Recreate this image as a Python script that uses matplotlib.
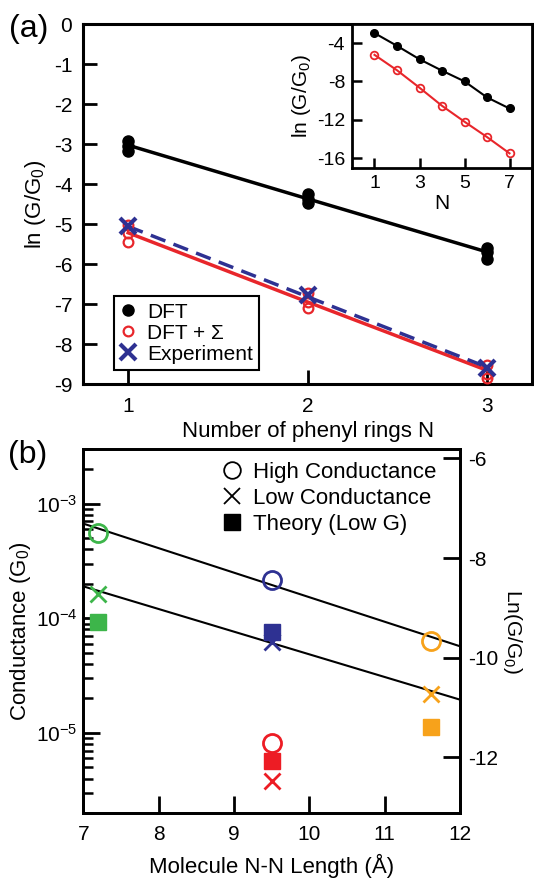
import numpy as np
import matplotlib
matplotlib.use('Agg')
import matplotlib.pyplot as plt
from matplotlib.lines import Line2D

plt.rcParams['font.family'] = ['Liberation Sans', 'DejaVu Sans']
plt.rcParams['mathtext.fontset'] = 'custom'
plt.rcParams['mathtext.rm'] = 'Liberation Sans'
plt.rcParams['mathtext.it'] = 'Liberation Sans:italic'
plt.rcParams['mathtext.default'] = 'regular'
plt.rcParams['axes.unicode_minus'] = False

# ---- panel (a): ln(G/G0) vs number of phenyl rings
rings = [1, 2, 3]
dft_n = [1, 1, 1, 2, 2, 2, 3, 3, 3]
dft_vals = [-2.93, -3.06, -3.18, -4.24, -4.37, -4.48, -5.60, -5.70, -5.87]
dft_fit = [-3.03, -4.37, -5.70]
sig_vals = [-5.02, -5.23, -5.46, -6.73, -6.94, -7.11, -8.52, -8.75, -8.85]
sig_fit = [-5.22, -6.95, -8.66]
exp_vals = [-5.06, -6.78, -8.60]
exp_fit = [-5.06, -6.82, -8.58]

# inset
n_inset = [1, 2, 3, 4, 5, 6, 7]
inset_dft = [-2.95, -4.28, -5.68, -6.87, -7.99, -9.66, -10.82]
inset_sig = [-5.22, -6.83, -8.65, -10.54, -12.2, -13.8, -15.5]

# ---- panel (b): conductance vs N-N length
lengths = [7.2, 9.5, 9.5, 11.62]
colors_b = ['#3db54a', '#2e3192', '#ed1c24', '#f7a21b']
high_g = [5.6e-4, 2.16e-4, 8.2e-6, 6.35e-5]
low_g = [1.64e-4, 6.2e-5, 3.8e-6, 2.18e-5]
theory_g = [9.3e-5, 7.6e-5, 5.7e-6, 1.12e-5]
fit_x = [7, 12]
high_fit = [6.7e-4, 5.7e-5]
low_fit = [1.9e-4, 1.95e-5]

red = '#e8262b'
blue = '#2e3192'

W, H = 534, 882
fig = plt.figure(figsize=(W / 100, H / 100), dpi=100)

def box(l, t, r, b):
    return [l / W, 1 - b / H, (r - l) / W, (b - t) / H]

# main (a)
ax = fig.add_axes(box(83.3, 24, 532, 384))
ax.plot(rings, dft_fit, color='black', lw=2.5, zorder=2)
ax.plot(rings, sig_fit, color=red, lw=2.5, zorder=2)
ax.plot(rings, exp_fit, color=blue, lw=2.5, ls=(0, (4.5, 2.5)), zorder=2)
ax.plot(dft_n, dft_vals, 'o', color='black', ms=8, zorder=3, label='DFT')
ax.plot(dft_n, sig_vals, 'o', mfc='none', mec=red, mew=1.6, ms=7, zorder=3,
        label='DFT + \u03a3')
ax.plot(rings, exp_vals, 'x', color=blue, ms=11, mew=3, zorder=4, label='Experiment')
ax.set_xlim(0.75, 3.25)
ax.set_ylim(-9, 0)
ax.set_xticks(rings)
ax.set_yticks(range(-9, 1))
ax.tick_params(direction='in', length=10, width=2, labelsize=15)
ax.tick_params(axis='y', pad=8)
ax.tick_params(axis='x', pad=9)
for s in ax.spines.values():
    s.set_linewidth(2.2)
ax.set_xlabel('Number of phenyl rings N', fontsize=16, labelpad=4)
ax.set_ylabel('ln (G/G$_0$)', fontsize=16, labelpad=4)
leg = ax.legend(loc='lower left', bbox_to_anchor=(0.068, 0.039), borderaxespad=0,
                fontsize=15, fancybox=False, edgecolor='black', framealpha=1,
                handlelength=0.8, handletextpad=0.5, labelspacing=0.1, borderpad=0.3)
leg.get_frame().set_linewidth(1.5)
fig.text(9 / W, 1 - 29 / H, '(a)', fontsize=23, va='center', ha='left')

# inset
ins = fig.add_axes(box(352, 24, 532, 167.7))
ins.plot(n_inset, inset_dft, '-o', color='black', lw=1.5, ms=5.5)
ins.plot(n_inset, inset_sig, '-o', color=red, lw=1.5, ms=5.5, mfc='none', mew=1.3)
ins.set_xlim(0, 8)
ins.set_ylim(-17, -2)
ins.set_xticks([1, 3, 5, 7])
ins.set_yticks([-4, -8, -12, -16])
ins.tick_params(direction='in', length=7, width=1.8, labelsize=14, pad=5)
for s in ins.spines.values():
    s.set_linewidth(2)
ins.set_xlabel('N', fontsize=15, labelpad=2)
ins.set_ylabel('ln (G/G$_0$)', fontsize=15, labelpad=3)

# panel (b)
axb = fig.add_axes(box(83.3, 449, 460, 813))
axb.set_yscale('log')
ylo, yhi = 2e-6, 3e-3
axb.plot(fit_x, high_fit, color='black', lw=1.5, zorder=2)
axb.plot(fit_x, low_fit, color='black', lw=1.5, zorder=2)
for x, c, hg, lg, tg in zip(lengths, colors_b, high_g, low_g, theory_g):
    axb.plot(x, tg, 's', color=c, ms=12, zorder=3)
    axb.plot(x, hg, 'o', mfc='none', mec=c, mew=2, ms=13, zorder=4)
    axb.plot(x, lg, 'x', color=c, ms=12, mew=2, zorder=4)
axb.set_xlim(7, 12)
axb.set_ylim(ylo, yhi)
axb.set_xticks(range(7, 13))
axb.tick_params(which='major', direction='in', length=12, width=2, labelsize=15)
axb.tick_params(which='minor', direction='in', length=7, width=1.8)
axb.tick_params(axis='x', pad=9)
axb.tick_params(axis='y', which='both', right=False, pad=4)
for s in axb.spines.values():
    s.set_linewidth(2)
axb.set_xlabel('Molecule N-N Length (\u00c5)', fontsize=16, labelpad=7)
axb.set_ylabel('Conductance (G$_0$)', fontsize=16, labelpad=2)

axr = axb.twinx()
axr.set_ylim(np.log(ylo), np.log(yhi))
axr.set_yticks([-6, -8, -10, -12])
axr.tick_params(direction='in', length=12, width=2, labelsize=15, pad=6)
for s in axr.spines.values():
    s.set_linewidth(2)
axr.set_ylabel('Ln(G/G$_0$)', fontsize=15, rotation=270, labelpad=18)

handles = [
    Line2D([], [], ls='none', marker='o', mfc='none', mec='black', mew=1.3, ms=12),
    Line2D([], [], ls='none', marker='x', color='black', mew=1.3, ms=11),
    Line2D([], [], ls='none', marker='s', color='black', ms=11),
]
axb.legend(handles, ['High Conductance', 'Low Conductance', 'Theory (Low G)'],
           loc='upper left', bbox_to_anchor=(0.368, 0.965), borderaxespad=0,
           borderpad=0, frameon=False, fontsize=16, handlelength=0.9,
           handletextpad=0.5, labelspacing=0.22)
fig.text(8 / W, 1 - 455 / H, '(b)', fontsize=23, va='center', ha='left')

fig.savefig('out.png', dpi=100)
